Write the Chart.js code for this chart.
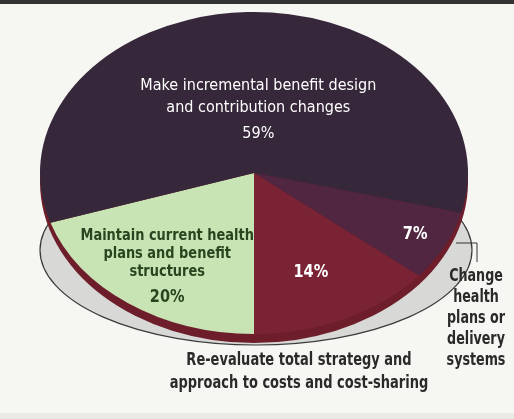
<!DOCTYPE html>
<html>
<head>
<meta charset="utf-8">
<script src="https://cdn.jsdelivr.net/npm/chart.js@4/dist/chart.umd.min.js"></script>
<style>
  html, body { margin: 0; padding: 0; background: #f6f6f3; }
  canvas { display: block; }
</style>
</head>
<body>
<canvas id="c" width="514" height="419"></canvas>
<script>
// ---- data ----
const categories = [
  "Maintain current health plans and benefit structures",
  "Make incremental benefit design and contribution changes",
  "Change health plans or delivery systems",
  "Re-evaluate total strategy and approach to costs and cost-sharing"
];
const shares = [20, 59, 7, 14];
const shareLabels = ["20%", "59%", "7%", "14%"];

// ---- styling ----
const sliceColors = ["#c9e4b4", "#36283a", "#502641", "#7a2334"];
const SX = 214 / 161;          // horizontal stretch of the tilted pie
const FONT = '"Liberation Sans Narrow", "DejaVu Sans Condensed", "Arial Narrow", sans-serif';

// text placed inside slices: radial fraction, offsets, lines [text, dy, font, squeeze]
const inside = [
  { f: 0.69, dx: 0, color: "#27461f", items: [
      ["Maintain current health", -27, "bold 16px", 0.9],
      ["plans and benefit", -9, "bold 16px", 0.9],
      ["structures", 9, "bold 16px", 0.9],
      [shareLabels[0], 35, "bold 17px", 0.95] ] },
  { f: 0.40, dx: 7, color: "#ffffff", items: [
      ["Make incremental benefit design", -23, "16px", 1],
      ["and contribution changes", -1, "16px", 1],
      [shareLabels[1], 25, "16px", 1] ] },
  { f: 0.845, dx: 0, color: "#ffffff", items: [[shareLabels[2], 0, "bold 17px", 0.95]] },
  { f: 0.668, dx: -4, color: "#ffffff", items: [[shareLabels[3], 2, "bold 17px", 0.95]] }
];

function squeezeText(ctx, t, x, y, k) {
  const w = ctx.measureText(t).width;
  ctx.fillText(t, x, y, w * k);
}

const tiltPlugin = {
  id: "tilt",
  beforeDraw(chart) {
    const ctx = chart.ctx;
    ctx.save();
    ctx.fillStyle = "#f6f6f3";
    ctx.fillRect(0, 0, chart.width, chart.height);
    ctx.fillStyle = "#333333";
    ctx.fillRect(0, 0, chart.width, 4);
    ctx.fillStyle = "#e9e9e6";
    ctx.fillRect(0, 413, chart.width, 6);
    ctx.restore();
  },
  beforeDatasetsDraw(chart) {
    const a = chart.getDatasetMeta(0).data[0];
    const ctx = chart.ctx, cx = a.x, cy = a.y, r = a.outerRadius;
    ctx.save();
    // base disc (shadow)
    ctx.beginPath();
    ctx.ellipse(cx + 2, cy + 77, r * SX + 2, r * 0.59, 0, 0, Math.PI * 2);
    ctx.fillStyle = "#d8d8d6";
    ctx.fill();
    ctx.lineWidth = 1.2;
    ctx.strokeStyle = "#3a3a3a";
    ctx.stroke();
    // pie side
    ctx.beginPath();
    ctx.ellipse(cx, cy + 9, r * SX, r, 0, 0, Math.PI * 2);
    ctx.fillStyle = "#6e1d2b";
    ctx.fill();
    ctx.restore();
    ctx.save();
    ctx.translate(cx, cy);
    ctx.scale(SX, 1);
    ctx.translate(-cx, -cy);
  },
  afterDatasetsDraw(chart) {
    const ctx = chart.ctx;
    ctx.restore();
    const arcs = chart.getDatasetMeta(0).data;
    const cx = arcs[0].x, cy = arcs[0].y, r = arcs[0].outerRadius;
    ctx.save();
    ctx.textAlign = "center";
    ctx.textBaseline = "middle";
    arcs.forEach((arc, i) => {
      const mid = (arc.startAngle + arc.endAngle) / 2;
      const cfg = inside[i];
      const x = cx + Math.cos(mid) * r * cfg.f * SX + cfg.dx;
      const y = cy + Math.sin(mid) * r * cfg.f;
      ctx.fillStyle = cfg.color;
      cfg.items.forEach(([t, dy, f, k]) => {
        ctx.font = f + " " + FONT;
        squeezeText(ctx, t, x, y + dy, k);
      });
    });
    // outside labels
    ctx.fillStyle = "#2a2a2a";
    ctx.font = "bold 17px " + FONT;
    const rx = r * SX;
    const chX = cx + rx + 8, chY = cy + 104;
    ["Change", "health", "plans or", "delivery", "systems"].forEach((t, k) => {
      squeezeText(ctx, t, chX, chY + k * 20.8, 0.83);
    });
    const reX = cx + 45, reY = cy + r + 27;
    ["Re-evaluate total strategy and", "approach to costs and cost-sharing"].forEach((t, k) => {
      squeezeText(ctx, t, reX, reY + k * 23, 0.85);
    });
    // leader line
    ctx.beginPath();
    ctx.moveTo(cx + rx - 12, cy + 70);
    ctx.lineTo(cx + rx + 9, cy + 70);
    ctx.lineTo(cx + rx + 9, cy + 89);
    ctx.lineWidth = 1;
    ctx.strokeStyle = "#333333";
    ctx.stroke();
    ctx.restore();
  }
};

new Chart(document.getElementById("c"), {
  type: "pie",
  data: {
    labels: categories,
    datasets: [{
      data: shares,
      backgroundColor: sliceColors,
      borderWidth: 0
    }]
  },
  options: {
    responsive: false,
    animation: false,
    rotation: 180,
    layout: { padding: { left: 93, right: 99, top: 12, bottom: 85 } },
    plugins: { legend: { display: false }, tooltip: { enabled: false } }
  },
  plugins: [tiltPlugin]
});
</script>
</body>
</html>
